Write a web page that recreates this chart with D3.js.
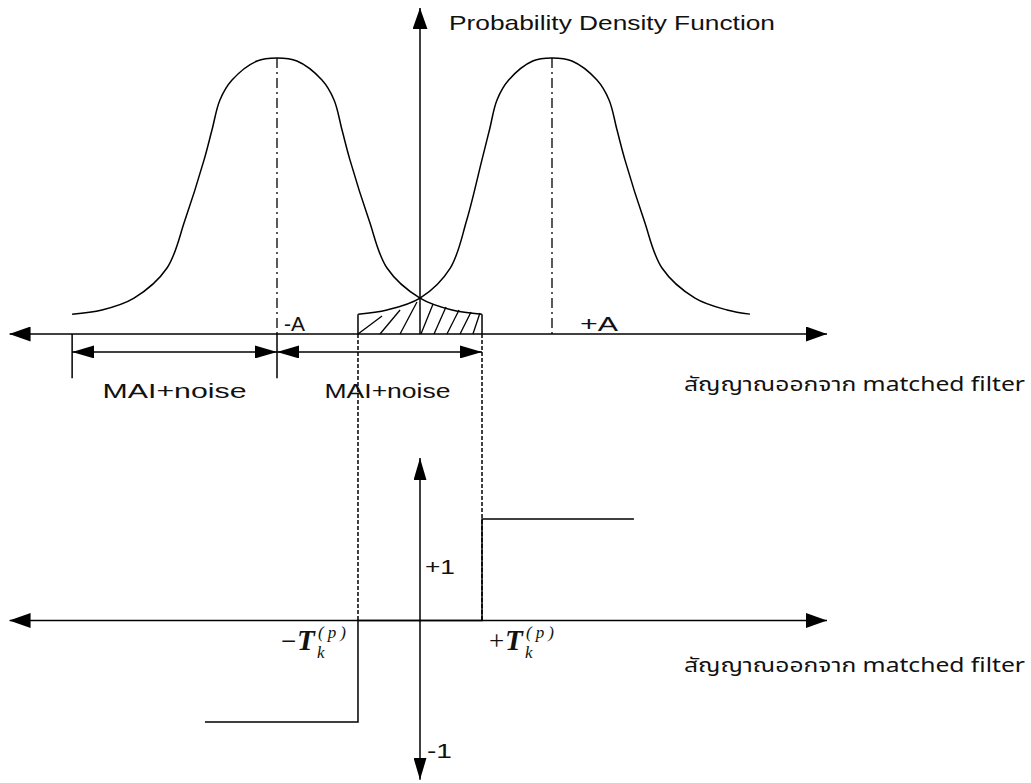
<!DOCTYPE html>
<html>
<head>
<meta charset="utf-8">
<script src="https://cdn.jsdelivr.net/npm/d3@7"></script>
<style>
  html, body { margin: 0; padding: 0; background: #fff; }
  svg { display: block; }
  .lbl { font-family: "Liberation Sans", Arial, sans-serif; font-size: 21px; fill: #111; }
  .thai { font-family: "Noto Sans Thai", "Loma", "Garuda", "Noto Sans", "DejaVu Sans", sans-serif; font-size: 19px; fill: #111; }
  .math { font-family: "Liberation Serif", "Times New Roman", serif; fill: #111; }
</style>
</head>
<body>
<div id="chart"></div>
<script>
// signal axis in units of ~A, density normalised to peak = 1
const leftPdfX = [-2.53, -2.313, -2.08, -1.84, -1.709, -1.571, -1.513, -1.455, -1.367, -1.185, -1.04,
                  -0.895, -0.713, -0.625, -0.567, -0.509, -0.371, -0.24, 0.0, 0.233, 0.45];
const rightPdfX = [-0.45, -0.24, 0.0, 0.22, 0.34, 0.45, 0.505, 0.56, 0.645, 0.82, 0.96,
                   1.105, 1.287, 1.375, 1.433, 1.491, 1.629, 1.76, 2.0, 2.233, 2.4];
const pdfY = [0.072, 0.087, 0.13, 0.239, 0.413, 0.63, 0.739, 0.848, 0.92, 0.989, 1,
              0.989, 0.92, 0.848, 0.739, 0.63, 0.413, 0.239, 0.13, 0.087, 0.072];

const means = [-1.04, 0.96];
const meanLabels = ["-A", "+A"];
const threshold = 0.451;
const tailEdge = 0.072;

// hatch strokes: bottom x on axis, top x and top height
const hatchX0 = [-0.451, -0.291, -0.145, 0.007, 0.102, 0.196, 0.291, 0.385];
const hatchX1 = [-0.276, -0.145, -0.022, 0.095, 0.189, 0.284, 0.371, 0.436];
const hatchH1 = [0.065, 0.087, 0.116, 0.109, 0.098, 0.087, 0.080, 0.076];

// decision output
const stepX = [-1.564, -threshold, -threshold, threshold, threshold, 1.556];
const stepY = [-1, -1, 0, 0, 1, 1];
const levelLabels = ["+1", "-1"];
const levelLabelY = [0.46, -1.35];

const spanLabel = "MAI+noise";
const yTitle = "Probability Density Function";
const xTitle = "สัญญาณออกจาก matched filter";

const width = 1031, height = 783;

const x = d3.scaleLinear().domain([-3, 3]).range([7.5, 832.5]);
const yTop = d3.scaleLinear().domain([0, 1]).range([334, 58]);
const yBot = d3.scaleLinear().domain([-1, 1]).range([722, 519]);

const svg = d3.select('#chart').append('svg')
    .attr('width', width)
    .attr('height', height);

const defs = svg.append('defs');
function marker(id, len, half) {
    defs.append('marker')
        .attr('id', id)
        .attr('markerUnits', 'userSpaceOnUse')
        .attr('viewBox', `${-len} ${-half} ${len} ${half * 2}`)
        .attr('refX', 0).attr('refY', 0)
        .attr('markerWidth', len).attr('markerHeight', half * 2)
        .attr('orient', 'auto-start-reverse')
        .append('path')
        .attr('d', `M0,0L${-len},${-half}L${-len},${half}Z`)
        .attr('fill', '#000');
}
marker('big', 21, 7.5);
marker('small', 22, 6.5);

const line = d3.line().x(d => x(d[0])).y(d => d[1]);

function seg(x0, y0, x1, y1, opts = {}) {
    const p = svg.append('line')
        .attr('x1', x(x0)).attr('y1', y0)
        .attr('x2', x(x1)).attr('y2', y1)
        .attr('stroke', '#000')
        .attr('stroke-width', opts.w || 1.5);
    if (opts.dash) p.attr('stroke-dasharray', opts.dash);
    if (opts.start) p.attr('marker-start', `url(#${opts.start})`);
    if (opts.end) p.attr('marker-end', `url(#${opts.end})`);
    return p;
}

// ---------- upper plot: two pdfs ----------
const curve = d3.line()
    .x(d => x(d[0]))
    .y(d => yTop(d[1]))
    .curve(d3.curveCatmullRom.alpha(0.5));

[leftPdfX, rightPdfX].forEach(xs => {
    svg.append('path')
        .datum(xs.map((v, i) => [v, pdfY[i]]))
        .attr('d', curve)
        .attr('fill', 'none')
        .attr('stroke', '#000')
        .attr('stroke-width', 1.5);
});

// mean lines (dash-dot)
means.forEach(m => seg(m, yTop(1), m, yTop(0), { dash: '10,4,2,4', w: 1.3 }));

// hatched error region
seg(-threshold, yTop(tailEdge), -threshold, yTop(0));
seg(threshold, yTop(tailEdge), threshold, yTop(0));
hatchX0.forEach((v, i) => seg(v, yTop(0), hatchX1[i], yTop(hatchH1[i]), { w: 1.3 }));

// axes
seg(0, yTop(0), 0, yTop(1.181), { end: 'big' });
seg(-2.985, yTop(0), 2.96, yTop(0), { start: 'big', end: 'big' });

// spans under axis
const spanY = yTop(-0.065);
const tickEnd = yTop(-0.16);
seg(-2.53, yTop(0), -2.53, tickEnd);
seg(means[0], yTop(0), means[0], tickEnd);
seg(-2.53, spanY, means[0], spanY, { start: 'small', end: 'small' });
seg(means[0], spanY, threshold, spanY, { start: 'small', end: 'small' });

svg.append('text').attr('class', 'lbl')
    .attr('x', x((-2.53 + means[0]) / 2)).attr('y', 398)
    .attr('text-anchor', 'middle')
    .attr('textLength', 144).attr('lengthAdjust', 'spacingAndGlyphs')
    .text(spanLabel);
svg.append('text').attr('class', 'lbl')
    .attr('x', x((means[0] + threshold) / 2) + 8).attr('y', 398)
    .attr('text-anchor', 'middle')
    .attr('textLength', 126).attr('lengthAdjust', 'spacingAndGlyphs')
    .text(spanLabel);

svg.selectAll('.mean-lbl')
    .data(means)
    .enter()
    .append('text')
    .attr('class', 'lbl mean-lbl')
    .attr('x', (d, i) => x(d) + (i === 0 ? 7 : 28))
    .attr('y', 331)
    .attr('textLength', (d, i) => i === 0 ? 21 : 38)
    .attr('lengthAdjust', 'spacingAndGlyphs')
    .text((d, i) => meanLabels[i]);

svg.append('text').attr('class', 'lbl')
    .attr('x', 449).attr('y', 30)
    .attr('textLength', 326).attr('lengthAdjust', 'spacingAndGlyphs')
    .text(yTitle);

svg.append('text').attr('class', 'thai')
    .attr('x', 684).attr('y', 391)
    .attr('textLength', 341).attr('lengthAdjust', 'spacingAndGlyphs')
    .text(xTitle);

// ---------- lower plot: hard decision ----------
seg(-threshold, yTop(0), -threshold, yBot(0), { dash: '4,2' });
seg(threshold, yTop(0), threshold, yBot(0), { dash: '4,2' });

seg(-2.985, yBot(0), 2.96, yBot(0), { start: 'big', end: 'big' });
seg(0, yBot(-1.57), 0, yBot(1.6), { start: 'small', end: 'small' });

svg.append('path')
    .datum(stepX.map((v, i) => [v, yBot(stepY[i])]))
    .attr('d', line)
    .attr('fill', 'none')
    .attr('stroke', '#000')
    .attr('stroke-width', 1.5);

svg.selectAll('.lvl')
    .data(levelLabelY)
    .enter()
    .append('text')
    .attr('class', 'lbl lvl')
    .attr('x', d => x(0) + (d > 0 ? 5 : 7))
    .attr('y', d => yBot(d))
    .attr('textLength', d => d > 0 ? 30 : 25)
    .attr('lengthAdjust', 'spacingAndGlyphs')
    .text((d, i) => levelLabels[i]);

function tLabel(px, sign) {
    const g = svg.append('g').attr('class', 'math');
    g.append('text').attr('x', px).attr('y', 650)
        .style('font-size', '27px')
        .text(sign);
    g.append('text').attr('x', px + 16).attr('y', 650)
        .style('font-size', '29px').style('font-style', 'italic').style('font-weight', 'bold')
        .text('T');
    g.append('text').attr('x', px + 36).attr('y', 658)
        .style('font-size', '17px').style('font-style', 'italic')
        .text('k');
    g.append('text').attr('x', px + 37).attr('y', 638)
        .style('font-size', '17px').style('font-style', 'italic')
        .attr('letter-spacing', 4)
        .text('(p)');
}
tLabel(x(-threshold) - 77, '−');
tLabel(x(threshold) + 7, '+');

svg.append('text').attr('class', 'thai')
    .attr('x', 684).attr('y', 672)
    .attr('textLength', 341).attr('lengthAdjust', 'spacingAndGlyphs')
    .text(xTitle);
</script>
</body>
</html>
